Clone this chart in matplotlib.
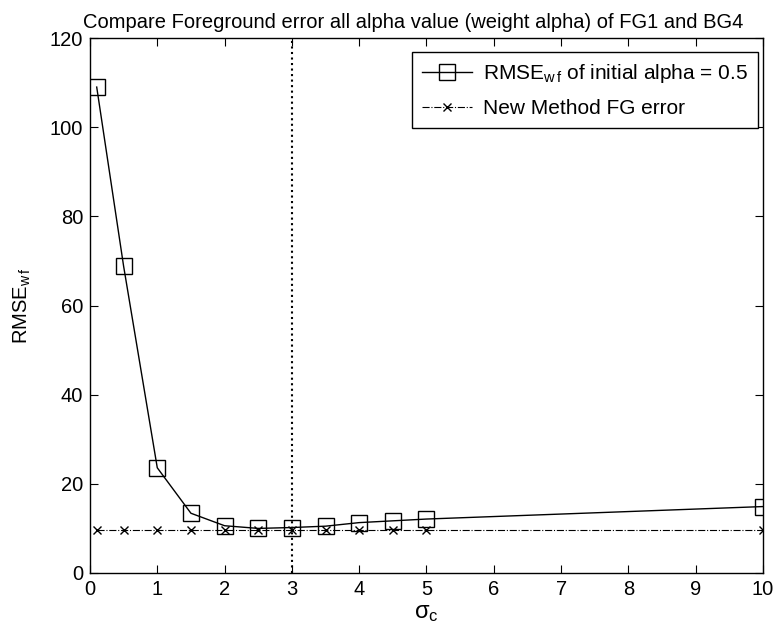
import matplotlib
matplotlib.use("Agg")
import matplotlib.pyplot as plt
import numpy as np

plt.rcParams['font.family'] = ['Liberation Sans', 'DejaVu Sans']
plt.rcParams['mathtext.fontset'] = 'custom'
plt.rcParams['mathtext.rm'] = 'Liberation Sans'
plt.rcParams['mathtext.it'] = 'Liberation Sans'

# sigma_c values and the two error curves
sigma_c = [0.1, 0.5, 1, 1.5, 2, 2.5, 3, 3.5, 4, 4.5, 5, 10]
rmse_wf = [109.0, 68.8, 23.6, 13.4, 10.6, 10.0, 10.2, 10.5, 11.3, 11.7, 12.1, 14.9]
new_fg_err = [9.6, 9.6, 9.6, 9.6, 9.6, 9.6, 9.6, 9.6, 9.6, 9.6, 9.6, 9.6]
sigma_mark = 3

xticks = [0, 1, 2, 3, 4, 5, 6, 7, 8, 9, 10]
yticks = [0, 20, 40, 60, 80, 100, 120]

fig = plt.figure(figsize=(7.77, 6.38), dpi=100)
ax = fig.add_axes([0.1158, 0.1019, 0.8662, 0.8385])

ax.plot(sigma_c, rmse_wf, color='black', lw=1.0, marker='s', ms=11,
        mfc='none', mec='black', mew=1.0,
        label=r'RMSE$_{\mathrm{w\,f}}$ of initial alpha = 0.5')
ax.plot(sigma_c, new_fg_err, color='black', lw=0.8, ls='-.', marker='x',
        ms=6, mew=1.0, label='New Method FG error')
ax.axvline(sigma_mark, color='black', lw=1.5, ls=':')

ax.set_xlim(0, 10)
ax.set_ylim(0, 120)
ax.set_xticks(xticks)
ax.set_yticks(yticks)
ax.tick_params(direction='in', top=True, right=True, length=6, labelsize=14.5,
               pad=5)
for s in ax.spines.values():
    s.set_linewidth(1.0)

ax.set_title('Compare Foreground error all alpha value (weight alpha) of FG1 and BG4',
             fontsize=14.5, pad=7, x=0.48)
ax.set_xlabel(r'$\sigma_\mathrm{c}$', fontsize=17, labelpad=2)
ax.set_ylabel(r'RMSE$_{\mathrm{w\,f}}$', fontsize=14.5, labelpad=12)

# legend box sits a bit below the top edge, close to the right edge
leg = ax.legend(loc='upper right', bbox_to_anchor=(0.993, 0.974),
                fontsize=15, fancybox=False, edgecolor='black', framealpha=1,
                handlelength=2.4, borderaxespad=0, borderpad=0.5,
                labelspacing=0.65, handletextpad=0.5)
leg.get_frame().set_linewidth(1.0)

fig.savefig('out.png', dpi=100)
